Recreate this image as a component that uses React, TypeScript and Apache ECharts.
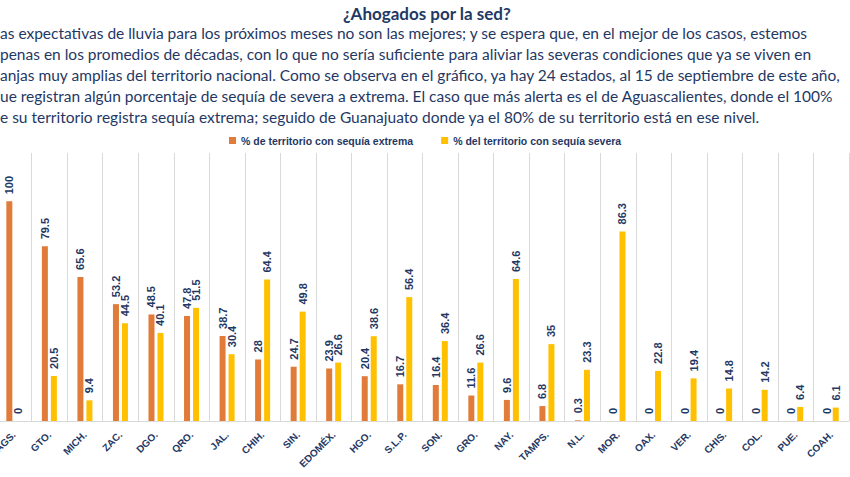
import React, { useEffect, useRef } from "react";
import * as echarts from "echarts";

const categories = ["AGS.", "GTO.", "MICH.", "ZAC.", "DGO.", "QRO.", "JAL.", "CHIH.", "SIN.", "EDOMÉX.", "HGO.", "S.L.P.", "SON.", "GRO.", "NAY.", "TAMPS.", "N.L.", "MOR.", "OAX.", "VER.", "CHIS.", "COL.", "PUE.", "COAH."];
const extrema = [100, 79.5, 65.6, 53.2, 48.5, 47.8, 38.7, 28, 24.7, 23.9, 20.4, 16.7, 16.4, 11.6, 9.6, 6.8, 0.3, 0, 0, 0, 0, 0, 0, 0];
const severa = [0, 20.5, 9.4, 44.5, 40.1, 51.5, 30.4, 64.4, 49.8, 26.6, 38.6, 56.4, 36.4, 26.6, 64.6, 35, 23.3, 86.3, 22.8, 19.4, 14.8, 14.2, 6.4, 6.1];
const seriesNames = ["% de territorio con sequía extrema", "% del territorio con sequía severa"];
const title = "¿Ahogados por la sed?";
const paragraph = [
  "as expectativas de lluvia para los próximos meses no son las mejores; y se espera que, en el mejor de los casos, estemos",
  "penas en los promedios de décadas, con lo que no sería suficiente para aliviar las severas condiciones que ya se viven en",
  "anjas muy amplias del territorio nacional. Como se observa en el gráfico, ya hay 24 estados, al 15 de septiembre de este año,",
  "ue registran algún porcentaje de sequía de severa a extrema. El caso que más alerta es el de Aguascalientes, donde el 100%",
  "e su territorio registra sequía extrema; seguido de Guanajuato donde ya el 80% de su territorio está en ese nivel.",
];

const NAVY = "#1F3864";
const SHIFT = 9;

export default function App() {
  const ref = useRef<HTMLDivElement>(null);
  useEffect(() => {
    if (!ref.current) return;
    const chart = echarts.init(ref.current, null, { renderer: "svg" });
    const label = {
      show: true,
      position: "top",
      rotate: 90,
      align: "left",
      verticalAlign: "middle",
      distance: 7,
      color: NAVY,
      fontWeight: "bold",
      fontSize: 11,
      fontFamily: "Liberation Sans",
    };
    chart.setOption({
      animation: false,
      backgroundColor: "#ffffff",
      graphic: [
        {
          type: "text",
          x: 343 + SHIFT,
          y: 5,
          style: { text: title, font: "bold 17px Lato", fill: NAVY },
        },
        ...paragraph.map((t, i) => ({
          type: "text",
          x: SHIFT,
          y: 25 + i * 21,
          style: { text: t, font: "15.5px Lato", fill: NAVY },
        })),
      ],
      legend: {
        top: 130,
        left: 224 + SHIFT,
        itemWidth: 7,
        itemHeight: 7,
        itemGap: 28,
        icon: "rect",
        textStyle: { color: NAVY, fontWeight: "bold", fontSize: 10.5, fontFamily: "Liberation Sans" },
        data: seriesNames,
      },
      grid: { left: 0, right: 1, top: 153, bottom: 56, containLabel: false },
      xAxis: {
        type: "category",
        data: categories,
        axisLine: { lineStyle: { color: "#D9D9D9" } },
        axisTick: { show: false },
        splitLine: { show: true, interval: 0, lineStyle: { color: "#D9D9D9" } },
        axisLabel: {
          interval: 0,
          rotate: 45,
          margin: 12,
          color: NAVY,
          fontWeight: "bold",
          fontSize: 10,
          fontFamily: "Liberation Sans",
        },
      },
      yAxis: { type: "value", min: 0, max: 122, show: false, splitLine: { show: false } },
      series: [
        { name: seriesNames[0], type: "bar", data: extrema, barWidth: 6, barGap: "50%", itemStyle: { color: "#E07B39" }, label },
        { name: seriesNames[1], type: "bar", data: severa, barWidth: 6, itemStyle: { color: "#FFC000" }, label },
      ],
    });
    return () => chart.dispose();
  }, []);
  return (
    <div style={{ position: "fixed", left: 0, top: 0, width: 850, height: 477, overflow: "hidden" }}>
      <div ref={ref} style={{ position: "absolute", left: -SHIFT, top: 0, width: 850 + SHIFT, height: 477 }} />
    </div>
  );
}
